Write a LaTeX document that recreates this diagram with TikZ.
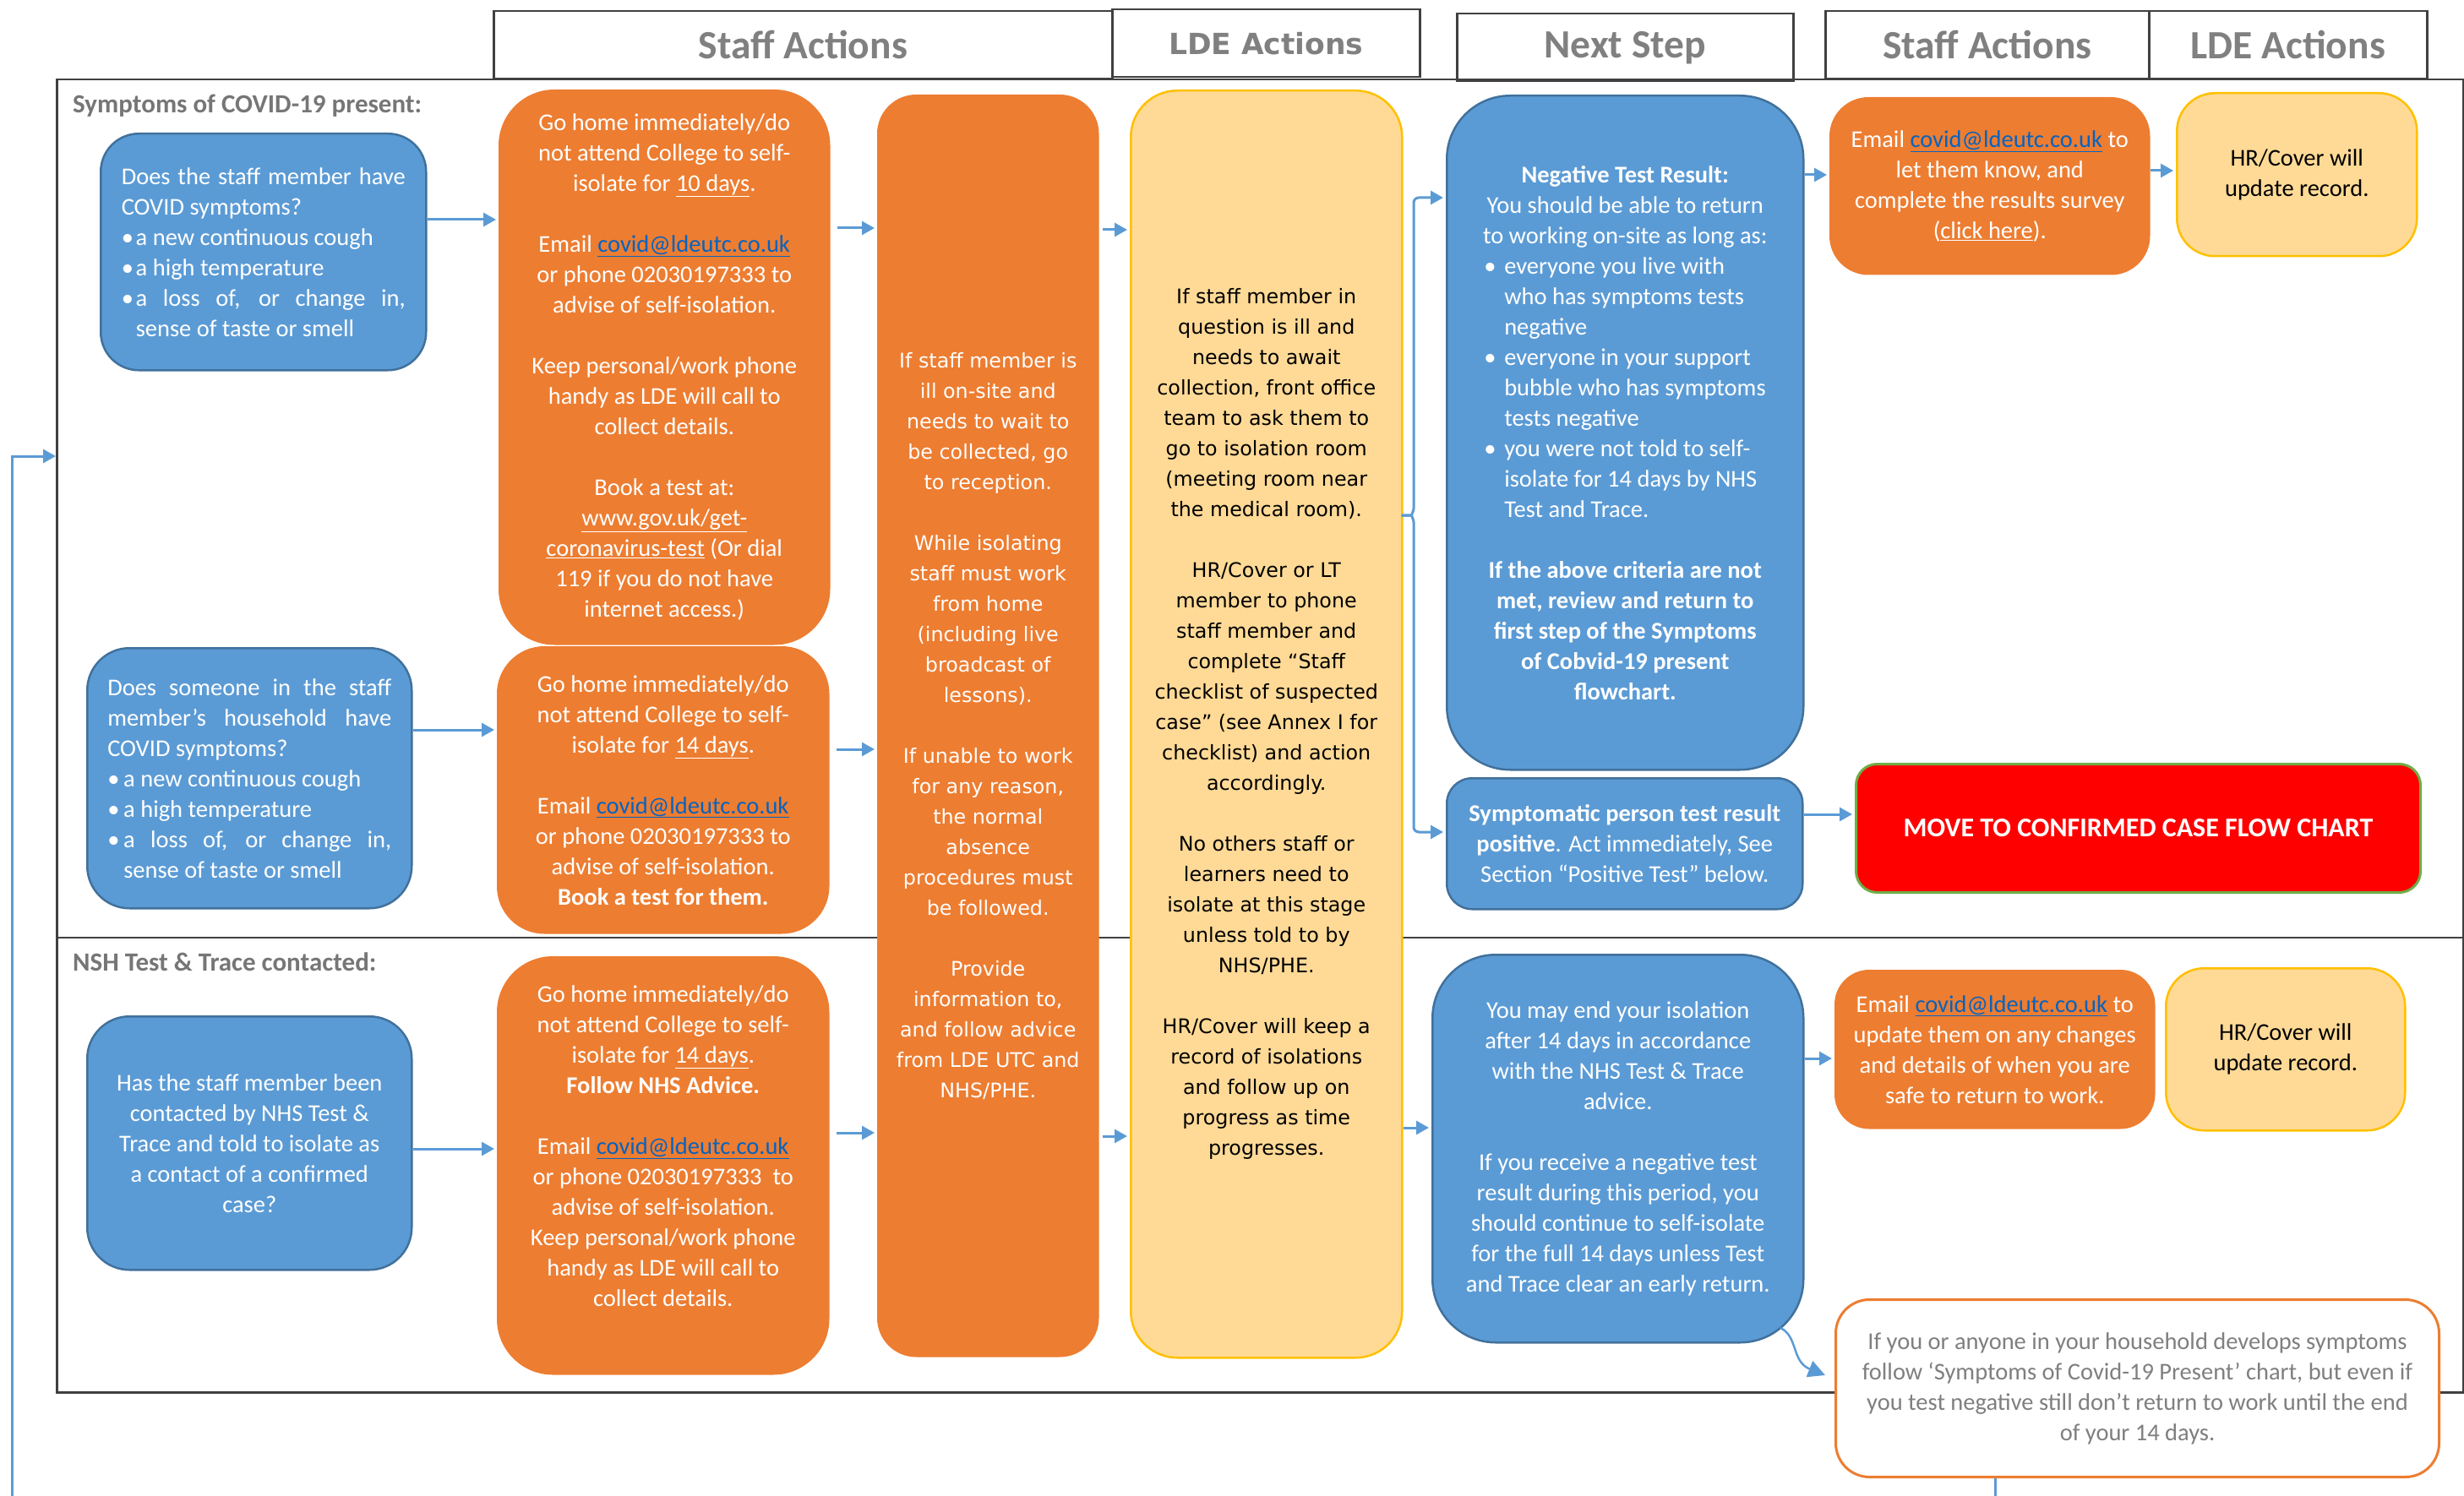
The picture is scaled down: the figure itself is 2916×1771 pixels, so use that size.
\documentclass[tikz,border=0pt]{standalone}
\usepackage{fontspec}
\setmainfont{Carlito}
\newfontfamily\verd{DejaVu Sans}
\usetikzlibrary{arrows.meta}
\definecolor{cblue}{HTML}{5B9BD5}
\definecolor{cblueb}{HTML}{41719C}
\definecolor{corange}{HTML}{ED7D31}
\definecolor{cyellow}{HTML}{FFDA96}
\definecolor{cyellowb}{HTML}{FFC000}
\definecolor{cred}{HTML}{FF0000}
\definecolor{cgreen}{HTML}{70AD47}
\definecolor{cgraytxt}{HTML}{7F7F7F}
\definecolor{chdr}{HTML}{808080}
\definecolor{csect}{HTML}{767676}
\definecolor{clink}{HTML}{0563C1}
\definecolor{cframe}{HTML}{404040}
\definecolor{carrow}{HTML}{5B9BD5}
\newcommand\emaillink{\textcolor{clink}{\underline{covid@ldeutc.co.uk}}}
\newcommand\negbul[1]{\makebox[334pt][l]{\makebox[24pt][l]{•}#1}}
\newcommand\negcont[1]{\makebox[334pt][l]{\hspace*{24pt}#1}}
\newcommand\jline[1]{\makebox[336pt][s]{#1}}
\begin{document}
\begin{tikzpicture}[x=1pt,y=-1pt,
  box/.style={line width=2.5pt, anchor=north west, inner sep=0pt, align=center, font=\fontsize{28.5}{36}\selectfont},
  bbox/.style={box, fill=cblue, draw=cblueb, text=white},
  obox/.style={box, fill=corange, draw=corange, text=white},
  ybox/.style={box, fill=cyellow, draw=cyellowb, text=black},
  vfont/.style={font=\verd\fontsize{23.8}{36}\selectfont},
  hdr/.style={draw=cframe, line width=2.5pt, anchor=north west, inner sep=0pt, text=chdr, font=\bfseries\fontsize{47.5}{57}\selectfont},
  arr/.style={draw=carrow, line width=3pt, -{Triangle[length=15pt,width=16pt]}, shorten >=3pt},
  sect/.style={anchor=west, inner sep=0pt, text=csect, font=\bfseries\fontsize{31}{37}\selectfont},
  frameline/.style={draw=cframe, line width=2.5pt}
]
\useasboundingbox (0,0) rectangle (2916,1771);
\fill[white] (0,0) rectangle (2916,1771);
\clip (0,0) rectangle (2916,1771);

% frame and divider
\node[frameline, minimum width=2848pt, minimum height=1554pt, anchor=north west, inner sep=0pt] (frame) at (66,93) {};
\draw[frameline] (frame.west |- 0,1110) -- (frame.east |- 0,1110);

% headers
\node[hdr, minimum width=732pt, minimum height=80pt] (h1) at (583,12) {Staff Actions};
\node[hdr, minimum width=364pt, minimum height=80pt, font=\verd\bfseries\fontsize{34.5}{41}\selectfont] (h2) at (1315,10) {LDE Actions};
\node[hdr, minimum width=398pt, minimum height=80pt] (h3) at (1723,15) {Next Step};
\node[hdr, minimum width=383pt, minimum height=80pt] (h4) at (2159,12) {Staff Actions};
\node[hdr, minimum width=329pt, minimum height=80pt] (h5) at (2542,12) {LDE Actions};

% section labels
\node[sect] (s1) at (86,125) {Symptoms of COVID-19 present:};
\node[sect] (s2) at (86,1139) {NSH Test \& Trace contacted:};

% column 1
\node[bbox, align=left, rounded corners=45pt, minimum width=385pt, minimum height=280pt] (b1) at (118,157) {%
\jline{Does the staff member have}\\
COVID symptoms?\\
\makebox[17pt][l]{•}a new continuous cough\\
\makebox[17pt][l]{•}a high temperature\\
\jline{\makebox[17pt][l]{•}a loss of, or change in,}\\
\hspace*{17pt}sense of taste or smell};

\node[bbox, align=left, rounded corners=50pt, minimum width=384pt, minimum height=308pt] (b2) at (102,766) {%
\jline{Does someone in the staff}\\
\jline{member’s household have}\\
COVID symptoms?\\
\makebox[19pt][l]{•}a new continuous cough\\
\makebox[19pt][l]{•}a high temperature\\
\jline{\makebox[19pt][l]{•}a loss of, or change in,}\\
\hspace*{19pt}sense of taste or smell};

\node[bbox, rounded corners=50pt, minimum width=384pt, minimum height=300pt] (b3) at (102,1202) {%
Has the staff member been\\
contacted by NHS Test \&\\
Trace and told to isolate as\\
a contact of a confirmed\\
case?};

% column 2
\node[obox, rounded corners=65pt, minimum width=390pt, minimum height=655pt] (o1) at (590,106) {%
Go home immediately/do\\
not attend College to self-\\
isolate for \underline{10 days}.\\[36pt]
Email \emaillink\\
or phone 02030197333 to\\
advise of self-isolation.\\[36pt]
Keep personal/work phone\\
handy as LDE will call to\\
collect details.\\[36pt]
Book a test at:\\
\underline{www.gov.uk/get-}\\
\underline{coronavirus-test} (Or dial\\
119 if you do not have\\
internet access.)};

\node[obox, rounded corners=55pt, minimum width=391pt, minimum height=338pt] (o2) at (588,765) {%
Go home immediately/do\\
not attend College to self-\\
isolate for \underline{14 days}.\\[36pt]
Email \emaillink\\
or phone 02030197333 to\\
advise of self-isolation.\\
\textbf{Book a test for them.}};

\node[obox, rounded corners=65pt, minimum width=391pt, minimum height=493pt] (o3) at (588,1132) {%
Go home immediately/do\\
not attend College to self-\\
isolate for \underline{14 days}.\\
\textbf{Follow NHS Advice.}\\[36pt]
Email \emaillink\\
or phone 02030197333\ \ to\\
advise of self-isolation.\\
Keep personal/work phone\\
handy as LDE will call to\\
collect details.\\
\strut};

% column 3 and 4
\node[obox, vfont, rounded corners=45pt, minimum width=260pt, minimum height=1492pt] (mo) at (1038,112) {%
If staff member is\\
ill on-site and\\
needs to wait to\\
be collected, go\\
to reception.\\[36pt]
While isolating\\
staff must work\\
from home\\
(including live\\
broadcast of\\
lessons).\\[36pt]
If unable to work\\
for any reason,\\
the normal\\
absence\\
procedures must\\
be followed.\\[36pt]
Provide\\
information to,\\
and follow advice\\
from LDE UTC and\\
NHS/PHE.};

\node[ybox, vfont, rounded corners=55pt, minimum width=321pt, minimum height=1500pt] (ye) at (1337,106) {%
If staff member in\\
question is ill and\\
needs to await\\
collection, front office\\
team to ask them to\\
go to isolation room\\
(meeting room near\\
the medical room).\\[36pt]
HR/Cover or LT\\
member to phone\\
staff member and\\
complete “Staff\\
checklist of suspected\\
case” (see Annex I for\\
checklist) and action\\
accordingly.\\[36pt]
No others staff or\\
learners need to\\
isolate at this stage\\
unless told to by\\
NHS/PHE.\\[36pt]
HR/Cover will keep a\\
record of isolations\\
and follow up on\\
progress as time\\
progresses.};

% next step column
\node[bbox, rounded corners=75pt, minimum width=422pt, minimum height=798pt] (neg) at (1711,112) {%
\textbf{Negative Test Result:}\\
You should be able to return\\
to working on-site as long as:\\
\negbul{everyone you live with}\\
\negcont{who has symptoms tests}\\
\negcont{negative}\\
\negbul{everyone in your support}\\
\negcont{bubble who has symptoms}\\
\negcont{tests negative}\\
\negbul{you were not told to self-}\\
\negcont{isolate for 14 days by NHS}\\
\negcont{Test and Trace.}\\[36pt]
\textbf{If the above criteria are not}\\
\textbf{met, review and return to}\\
\textbf{first step of the Symptoms}\\
\textbf{of Cobvid-19 present}\\
\textbf{flowchart.}};

\node[bbox, rounded corners=30pt, minimum width=421pt, minimum height=155pt] (sym) at (1711,920) {%
\textbf{Symptomatic person test result}\\
\textbf{positive}. Act immediately, See\\
Section “Positive Test” below.};

\node[bbox, rounded corners=75pt, minimum width=439pt, minimum height=459pt] (ym) at (1694,1129) {%
You may end your isolation\\
after 14 days in accordance\\
with the NHS Test \& Trace\\
advice.\\[36pt]
If you receive a negative test\\
result during this period, you\\
should continue to self-isolate\\
for the full 14 days unless Test\\
and Trace clear an early return.};

% right columns
\node[obox, rounded corners=45pt, minimum width=377pt, minimum height=208pt] (e1) at (2165,115) {%
Email \emaillink{} to\\
let them know, and\\
complete the results survey\\
(\underline{click here}).};

\node[ybox, rounded corners=45pt, minimum width=284pt, minimum height=193pt] (y1) at (2575,109) {%
HR/Cover will\\
update record.};

\node[box, fill=cred, draw=cgreen, line width=3pt, text=white, rounded corners=25pt, minimum width=668pt, minimum height=152pt, font=\bfseries\fontsize{32}{38}\selectfont] (red) at (2195,903) {MOVE TO CONFIRMED CASE FLOW CHART};

\node[obox, rounded corners=40pt, minimum width=377pt, minimum height=186pt] (e2) at (2171,1148) {%
Email \emaillink{} to\\
update them on any changes\\
and details of when you are\\
safe to return to work.};

\node[ybox, rounded corners=45pt, minimum width=283pt, minimum height=192pt] (y2) at (2562,1145) {%
HR/Cover will\\
update record.};

\node[box, fill=white, draw=corange, line width=3pt, text=cgraytxt, rounded corners=40pt, minimum width=714pt, minimum height=210pt] (fb) at (2171,1537) {%
If you or anyone in your household develops symptoms\\
follow ‘Symptoms of Covid-19 Present’ chart, but even if\\
you test negative still don’t return to work until the end\\
of your 14 days.};

% connectors
\draw[arr] (b1.east |- 0,260) -- (o1.west |- 0,260);
\draw[arr] (b2.east |- 0,864) -- (o2.west |- 0,864);
\draw[arr] (b3.east |- 0,1360) -- (o3.west |- 0,1360);
\draw[arr, shorten <=8pt] (o1.east |- 0,270) -- (mo.west |- 0,270);
\draw[arr, shorten <=8pt] (o2.east |- 0,887) -- (mo.west |- 0,887);
\draw[arr, shorten <=8pt] (o3.east |- 0,1341) -- (mo.west |- 0,1341);
\draw[arr, shorten <=4pt] (mo.east |- 0,272) -- (ye.west |- 0,272);
\draw[arr, shorten <=4pt] (mo.east |- 0,1345) -- (ye.west |- 0,1345);
\draw[arr] (ye.east |- 0,1335) -- (ym.west |- 0,1335);
\draw[arr] (neg.east |- 0,207) -- (e1.west |- 0,207);
\draw[arr] (e1.east |- 0,202) -- (y1.west |- 0,202);
\draw[arr] (sym.east |- 0,964) -- (red.west |- 0,964);
\draw[arr] (ym.east |- 0,1253) -- (e2.west |- 0,1253);

% brace from LDE column to the two next-step outcomes
\coordinate (bt) at (ye.east |- 0,610);
\draw[arr, rounded corners=6pt] (bt) -- ++(4,0) .. controls (1670,610) and (1673,605) .. (1673,596) -- (1673,234) -- (neg.west |- 0,234);
\draw[arr, rounded corners=6pt] (bt) -- ++(4,0) .. controls (1670,610) and (1673,615) .. (1673,624) -- (1673,985) -- (sym.west |- 0,985);

% curved arrow to the reminder box
\coordinate (cs) at (2107,1572);
\coordinate (ct) at (2160,1628);
\draw[arr, line width=2.5pt, -{Triangle[length=20pt,width=20pt]}, shorten >=0pt] (cs) .. controls (2128,1582) and (2120,1612) .. (ct);

% loop back to the start
\coordinate (lb) at (14,1800);
\draw[arr, shorten >=0pt] (fb.south -| 2361,0) -- (2361,1800) -- (lb) -- (14,540) -- (frame.west |- 0,540);
\end{tikzpicture}
\end{document}
